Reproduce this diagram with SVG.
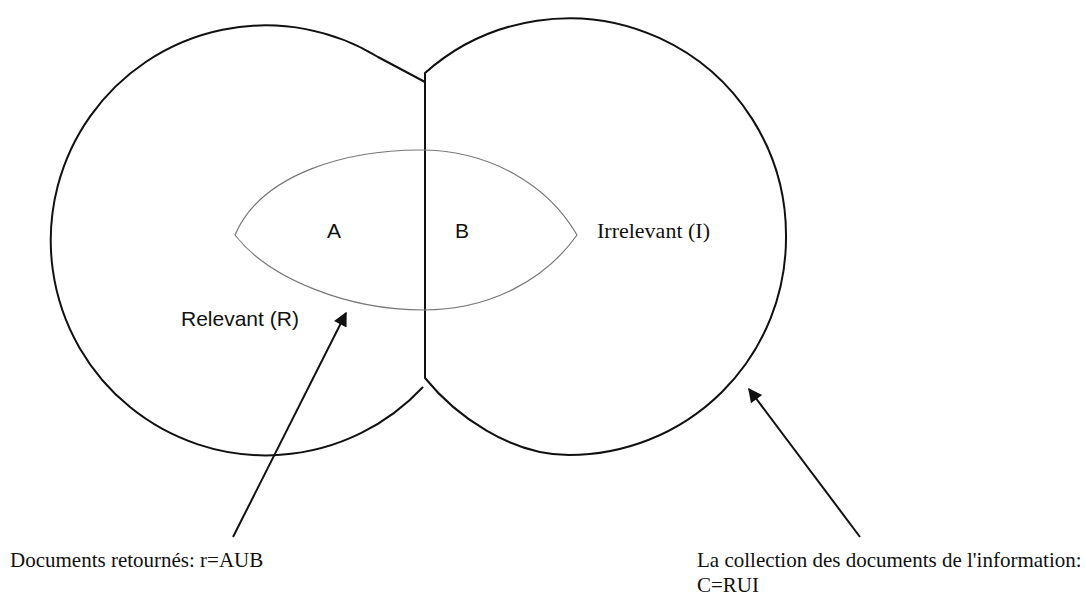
<svg xmlns="http://www.w3.org/2000/svg" width="1085" height="596" viewBox="0 0 1085 596">
<defs>
<style>
.outline{fill:none;stroke:#111;stroke-width:2;stroke-linejoin:round}
.lens{fill:none;stroke:#777;stroke-width:1.2}
.sans{font-family:"Liberation Sans",Arial,sans-serif;fill:#111}
.serif{font-family:"Liberation Serif","Times New Roman",serif;fill:#111}
.conn{fill:none;stroke:#111;stroke-width:2}
</style>
<marker id="ah" viewBox="0 0 10 10" refX="9" refY="5" markerWidth="8" markerHeight="7" markerUnits="strokeWidth" orient="auto">
<path d="M0,0 L10,5 L0,10 Z" fill="#111"/>
</marker>
</defs>
<rect width="1085" height="596" fill="#fff"/>
<g id="relevant">
<path class="outline" d="M425,82 L378,57 A215,215 0 1 0 423,387"/>
<text class="sans" x="181" y="326" font-size="21">Relevant (R)</text>
</g>
<g id="irrelevant">
<path class="outline" d="M425,73 A217,217 0 0 1 786,238 A217,217 0 0 1 569,455 C510,455 455,415 425,378 Z"/>
<text class="serif" x="597" y="238" font-size="22">Irrelevant (I)</text>
</g>
<g id="retrieved">
<path class="lens" d="M235,235 C262,172 350,150 420,150 C490,150 548,185 577,235 C545,280 490,310 423,310 C350,310 270,280 235,235 Z"/>
<text class="sans" x="327" y="238" font-size="21">A</text>
<text class="sans" x="455" y="238" font-size="21">B</text>
</g>
<g id="connectors">
<line class="conn" x1="233" y1="537" x2="346" y2="313" marker-end="url(#ah)"/>
<line class="conn" x1="860" y1="537" x2="749" y2="389" marker-end="url(#ah)"/>
</g>
<g id="label-retournes">
<text class="serif" x="10" y="567" font-size="21">Documents retournés: r=AUB</text>
</g>
<g id="label-collection">
<text class="serif" x="697" y="567" font-size="21">La collection des documents de l'information:</text>
<text class="serif" x="697" y="592" font-size="21">C=RUI</text>
</g>
</svg>
